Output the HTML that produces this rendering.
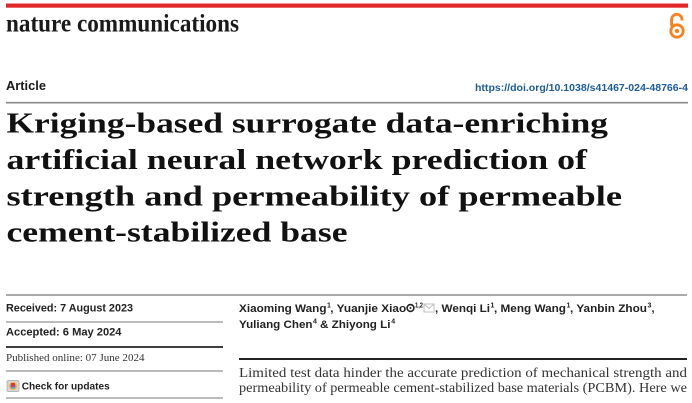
<!DOCTYPE html>
<html><head><meta charset="utf-8"><style>
html,body{margin:0;padding:0;background:#fff;}
svg{display:block;}
</style></head><body>
<svg width="692" height="403" viewBox="0 0 692 403" xmlns="http://www.w3.org/2000/svg">
<rect x="0" y="0" width="692" height="403" fill="#fff"/>
<!-- red bar -->
<rect x="6" y="3.5" width="682" height="4.2" fill="#e2272b"/>
<!-- journal name -->
<text x="6" y="31.5" font-family="Liberation Serif, serif" font-weight="bold" font-size="25" fill="#1a1a1a" textLength="233" lengthAdjust="spacingAndGlyphs">nature communications</text>
<!-- open access icon -->
<g fill="none" stroke="#f58220" stroke-width="2.8">
<path d="M671.6 26 V19.5 A5.2 5.2 0 0 1 682 19.5 V20.5"/>
<circle cx="677" cy="31" r="6.2"/>
</g>
<circle cx="677" cy="31" r="2.2" fill="#f58220"/>
<!-- Article / DOI -->
<text x="6" y="90" font-family="Liberation Sans, sans-serif" font-weight="bold" font-size="12.5" fill="#1a1a1a" textLength="40" lengthAdjust="spacingAndGlyphs">Article</text>
<text x="475" y="91" font-family="Liberation Sans, sans-serif" font-weight="bold" font-size="9.8" fill="#1d5c9b" textLength="213" lengthAdjust="spacingAndGlyphs">https://doi.org/10.1038/s41467-024-48766-4</text>
<line x1="6" y1="102.7" x2="688" y2="102.7" stroke="#8a8a8a" stroke-width="1.6"/>
<!-- title -->
<g font-family="Liberation Serif, serif" font-weight="bold" font-size="29" fill="#111">
<text x="6.5" y="132.5" textLength="601.5" lengthAdjust="spacingAndGlyphs">Kriging-based surrogate data-enriching</text>
<text x="6.5" y="168.8" textLength="580.5" lengthAdjust="spacingAndGlyphs">artificial neural network prediction of</text>
<text x="6.5" y="205.5" textLength="615.5" lengthAdjust="spacingAndGlyphs">strength and permeability of permeable</text>
<text x="6.5" y="241.7" textLength="341" lengthAdjust="spacingAndGlyphs">cement-stabilized base</text>
</g>
<!-- lower section top rule -->
<line x1="6" y1="295" x2="687" y2="295" stroke="#555" stroke-width="1.1"/>
<!-- left column -->
<g font-family="Liberation Sans, sans-serif" font-weight="bold" font-size="10.8" fill="#222">
<text x="6" y="311.5" textLength="127" lengthAdjust="spacingAndGlyphs">Received: 7 August 2023</text>
<text x="6" y="335.5" textLength="115.5" lengthAdjust="spacingAndGlyphs">Accepted: 6 May 2024</text>
</g>
<line x1="6" y1="322" x2="223" y2="322" stroke="#777" stroke-width="1"/>
<line x1="6" y1="347" x2="223" y2="347" stroke="#222" stroke-width="1.8"/>
<text x="6" y="361" font-family="Liberation Serif, serif" font-size="11" fill="#333" textLength="138.5" lengthAdjust="spacingAndGlyphs">Published online: 07 June 2024</text>
<line x1="6" y1="371" x2="223" y2="371" stroke="#777" stroke-width="1"/>
<!-- check for updates icon -->
<rect x="7" y="380.5" width="12" height="11" rx="1.5" fill="#d9d9d9" stroke="#a8a8a8" stroke-width="0.8"/>
<circle cx="13" cy="386" r="4.3" fill="#f2b84b"/>
<circle cx="13" cy="386" r="3" fill="#6fa6d8"/>
<path d="M11.2 383 h3.6 v4.8 l-1.8 -1.3 l-1.8 1.3 z" fill="#e0312f"/>
<text x="21.7" y="389.3" font-family="Liberation Sans, sans-serif" font-weight="bold" font-size="10.5" fill="#222" textLength="88" lengthAdjust="spacingAndGlyphs">Check for updates</text>
<line x1="6" y1="398" x2="223" y2="398" stroke="#777" stroke-width="1"/>
<!-- authors -->
<g font-family="Liberation Sans, sans-serif" font-weight="bold" font-size="10.8" fill="#222">
<text x="239" y="312" textLength="87.5" lengthAdjust="spacingAndGlyphs">Xiaoming Wang</text>
<text x="330.3" y="312" textLength="75.9" lengthAdjust="spacingAndGlyphs">, Yuanjie Xiao</text>
<text x="435" y="312" textLength="55" lengthAdjust="spacingAndGlyphs">, Wenqi Li</text>
<text x="494" y="312" textLength="72" lengthAdjust="spacingAndGlyphs">, Meng Wang</text>
<text x="570" y="312" textLength="77" lengthAdjust="spacingAndGlyphs">, Yanbin Zhou</text>
<text x="651.5" y="312">,</text>
<text x="239" y="328" textLength="73.5" lengthAdjust="spacingAndGlyphs">Yuliang Chen</text>
<text x="320" y="328" textLength="70.5" lengthAdjust="spacingAndGlyphs">&amp; Zhiyong Li</text>
</g>
<g font-family="Liberation Sans, sans-serif" font-weight="bold" font-size="7" fill="#222">
<text x="327" y="307.5">1</text>
<text x="415" y="307.5" textLength="8" lengthAdjust="spacingAndGlyphs">1,2</text>
<text x="490.5" y="307.5">1</text>
<text x="566.5" y="307.5">1</text>
<text x="647.5" y="307.5">3</text>
<text x="313" y="323.5">4</text>
<text x="391.3" y="323.5">4</text>
</g>
<!-- orcid icon -->
<circle cx="410.5" cy="308" r="3.4" fill="none" stroke="#222" stroke-width="1.6"/>
<circle cx="410.5" cy="308" r="1" fill="#222"/>
<!-- envelope -->
<rect x="424" y="304" width="10" height="8" fill="none" stroke="#bdbdbd" stroke-width="0.9"/>
<path d="M424 304 L429 308.5 L434 304" fill="none" stroke="#bdbdbd" stroke-width="0.9"/>
<!-- abstract rule -->
<line x1="239" y1="359" x2="687" y2="359" stroke="#222" stroke-width="2"/>
<!-- abstract -->
<g font-family="Liberation Serif, serif" font-size="13.5" fill="#333">
<text x="239" y="377" textLength="448" lengthAdjust="spacingAndGlyphs">Limited test data hinder the accurate prediction of mechanical strength and</text>
<text x="239" y="392" textLength="448" lengthAdjust="spacingAndGlyphs">permeability of permeable cement-stabilized base materials (PCBM). Here we</text>
</g>
</svg>
</body></html>
